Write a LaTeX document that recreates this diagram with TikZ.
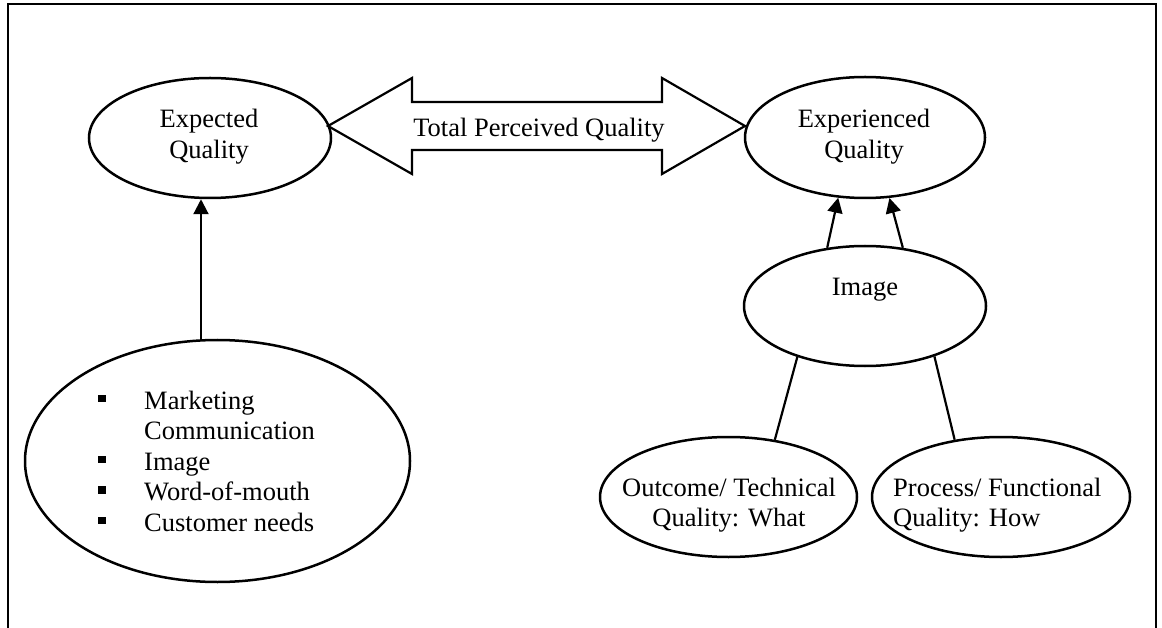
\documentclass[tikz,border=0pt]{standalone}
\usepackage{fontspec}
\setmainfont{Liberation Serif}
\usetikzlibrary{arrows.meta,shapes.geometric}
\newcommand\mybul{\rule[6.7pt]{7.5pt}{7.5pt}}
\begin{document}
\begin{tikzpicture}[x=1pt,y=-1pt,
  oval/.style={draw, ellipse, line width=2.5pt, inner sep=0pt},
  txt/.style={font=\fontsize{26.5}{30.5}\selectfont, inner sep=0pt, anchor=base},
  arr/.style={-{Triangle[length=15pt,width=15pt]}, line width=2.2pt},
  conn/.style={line width=2.2pt}]
\useasboundingbox (0,0) rectangle (1162,628);
% frame
\draw[line width=2.2pt] (8,628) -- (8,4) -- (1156,4) -- (1156,628);
% ellipses
\node[oval, minimum width=242pt, minimum height=120pt] (exp) at (210,138) {};
\node[oval, minimum width=240pt, minimum height=121pt] (expq) at (865,137.5) {};
\node[oval, minimum width=242pt, minimum height=120pt] (img) at (865,306) {};
\node[oval, minimum width=385pt, minimum height=242pt] (list) at (217.5,461) {};
\node[oval, minimum width=257pt, minimum height=120pt] (outc) at (728.5,497) {};
\node[oval, minimum width=258pt, minimum height=120pt] (proc) at (1001,497) {};
% texts (base anchor = baseline of the last line)
\node[txt, align=center] (expT) at (209,158.5) {Expected\\Quality};
\node[txt, align=center] (expqT) at (864,158.5) {Experienced\\Quality};
\node[txt] (imgT) at (865,296) {Image};
\node[txt, align=center] (outcT) at (729,526.7) {Outcome/ Technical\\Quality: What};
\node[txt, align=left, anchor=base west] (procT) at (893,526.7) {Process/ Functional\\Quality: How};
\node[txt, align=left, anchor=base west] (listT) at (98,531) {%
\makebox[46pt][l]{\mybul}Marketing\\
\makebox[46pt][l]{}Communication\\
\makebox[46pt][l]{\mybul}Image\\
\makebox[46pt][l]{\mybul}Word-of-mouth\\
\makebox[46pt][l]{\mybul}Customer needs};
% double arrow
\draw[line width=2.2pt, line join=miter]
  (328,126) -- (412,78) -- (412,102) -- (662,102) -- (662,78) -- (745,126)
  -- (662,174) -- (662,150) -- (412,150) -- (412,174) -- cycle;
\node[txt] (tpq) at (539,136.7) {Total Perceived Quality};
% connectors
\draw[arr] ([xshift=-16.5pt]list.north) -- ([xshift=-9pt]exp.south);
\draw[arr] (img.123) -- (expq.246);
\draw[arr] (img.57.5) -- (expq.292);
\draw[conn] (img.217) -- (outc.51);
\draw[conn] (img.324) -- (proc.129);
\end{tikzpicture}
\end{document}
